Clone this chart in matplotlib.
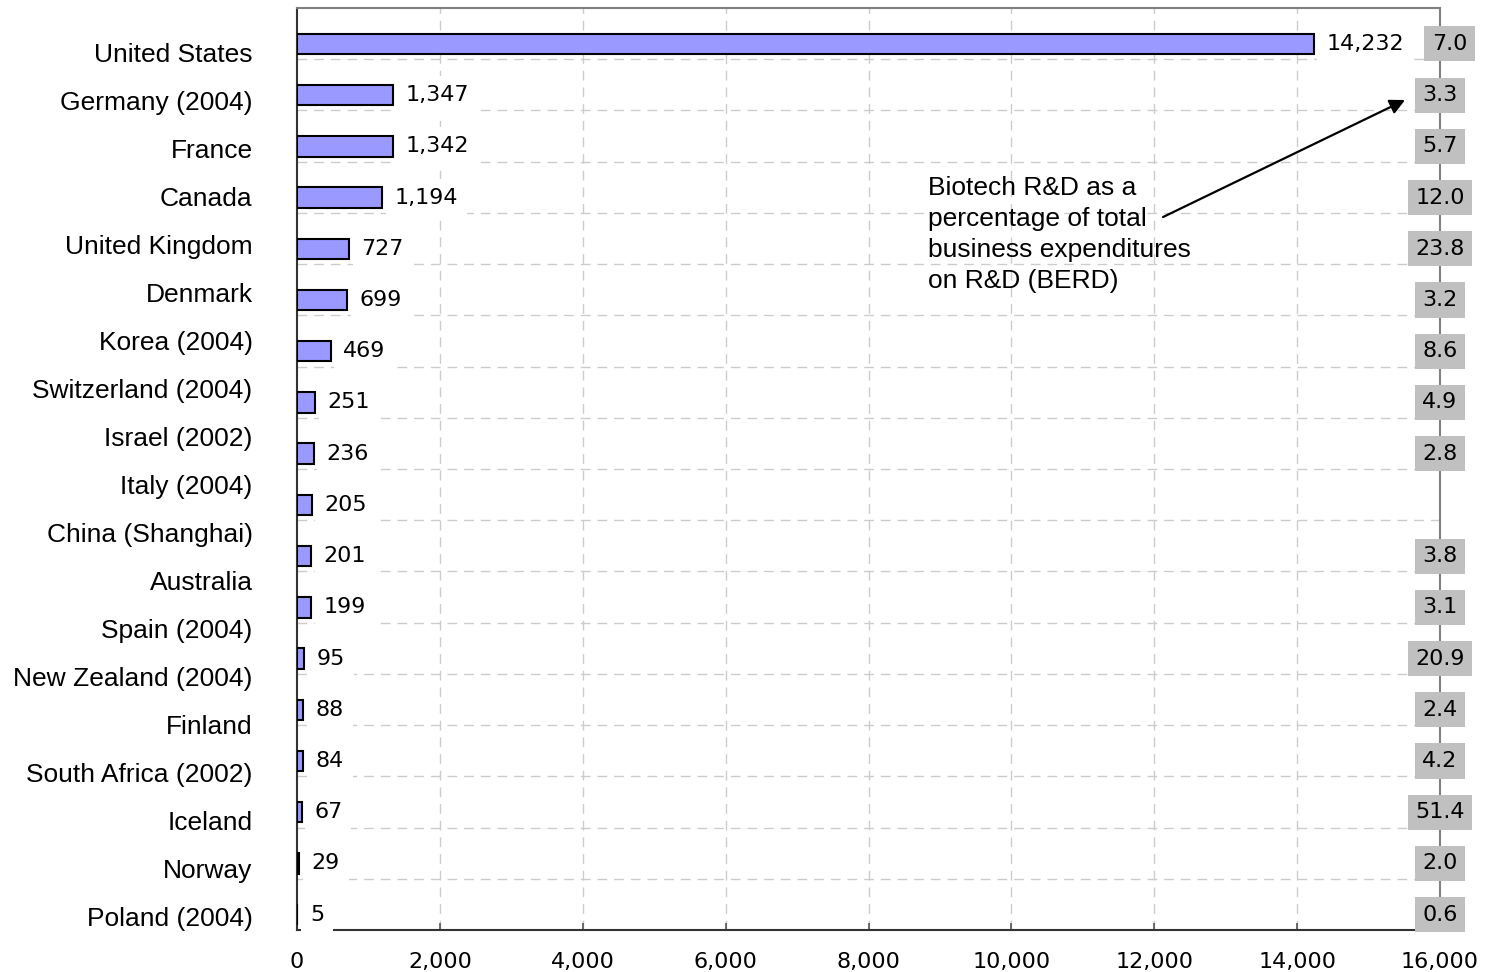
import matplotlib
matplotlib.use("Agg")
import matplotlib.pyplot as plt
import numpy as np

countries = [
    "United States", "Germany (2004)", "France", "Canada", "United Kingdom",
    "Denmark", "Korea (2004)", "Switzerland (2004)", "Israel (2002)",
    "Italy (2004)", "China (Shanghai)", "Australia", "Spain (2004)",
    "New Zealand (2004)", "Finland", "South Africa (2002)", "Iceland",
    "Norway", "Poland (2004)",
]
biotech_rd = [14232, 1347, 1342, 1194, 727, 699, 469, 251, 236, 205,
              201, 199, 95, 88, 84, 67, 29, 5]
berd_share = [7.0, 3.3, 5.7, 12.0, 23.8, 3.2, 8.6, 4.9, 2.8, None,
              3.8, 3.1, 20.9, 2.4, 4.2, 51.4, 2.0, 0.6]
x_ticks = [0, 2000, 4000, 6000, 8000, 10000, 12000, 14000, 16000]
note = "Biotech R&D as a\npercentage of total\nbusiness expenditures\non R&D (BERD)"

num_font = "DejaVu Sans"
txt_font = "Liberation Sans"

fig = plt.figure(figsize=(15.06, 9.72), dpi=100)
ax = fig.add_axes([297 / 1506, 42 / 972, 1143 / 1506, 922 / 972])

n = len(biotech_rd)
pos = np.arange(n) + 0.7
ax.barh(pos, biotech_rd, height=0.4, color="#9999FF", edgecolor="black",
        linewidth=1.5, zorder=3)

ax.set_xlim(0, 16000)
ax.set_ylim(n, 0)

# grid: dashed verticals at tick values, dashed horizontals between rows
for xv in x_ticks[1:-1]:
    ax.axvline(xv, color="#CCCCCC", lw=1.0, ls=(0, (7, 5)), zorder=1)
for k in range(1, n):
    ax.axhline(k, color="#CCCCCC", lw=1.0, ls=(0, (7, 5)), zorder=1)

ax.set_xticks(x_ticks)
ax.set_xticklabels([f"{v:,}" for v in x_ticks], fontfamily=num_font, fontsize=16)
ax.tick_params(axis="x", direction="in", length=5, width=1.2, pad=16,
               color="#555555")
ax.set_yticks([])

for side in ("left", "bottom"):
    ax.spines[side].set_color("#333333")
    ax.spines[side].set_linewidth(1.5)
for side in ("top", "right"):
    ax.spines[side].set_color("#808080")
    ax.spines[side].set_linewidth(1.5)

# value labels beside the bars
for y, v in zip(pos, biotech_rd):
    ax.annotate(f"{v:,}", xy=(v, y), xytext=(9, 0), textcoords="offset points",
                va="center", ha="left", fontfamily=num_font, fontsize=16,
                zorder=6, annotation_clip=False,
                bbox=dict(boxstyle="square,pad=0.4", fc="white", ec="none"))

# BERD share boxes on the right edge
for i, (y, s) in enumerate(zip(pos, berd_share)):
    if s is None:
        continue
    nudge = 7 if biotech_rd[i] > 14000 else 0
    ax.annotate(f"{s:.1f}", xy=(16000, y), xytext=(nudge, 0),
                textcoords="offset points", va="center", ha="center",
                fontfamily=num_font, fontsize=16, zorder=7,
                annotation_clip=False,
                bbox=dict(boxstyle="square,pad=0.34", fc="#C0C0C0", ec="none"))

# country names on their own vertical scale
lab = fig.add_axes(ax.get_position(), frameon=False)
lab.set_xlim(0, 1)
lab.set_ylim((930 - 52) / 48, (8 - 52) / 48)
lab.set_xticks([])
lab.set_yticks(np.arange(len(countries)))
lab.set_yticklabels(countries, fontfamily=txt_font, fontsize=19)
lab.tick_params(axis="y", length=0, pad=32)
lab.patch.set_visible(False)

# explanatory note with arrow to the share column
ax.text(0.552, 0.8178, note, transform=ax.transAxes, ha="left", va="top",
        fontfamily=txt_font, fontsize=19, linespacing=1.36, zorder=5)
ax.annotate("", xy=(0.9694, 0.9002), xytext=(0.7577, 0.7733),
            xycoords="axes fraction", textcoords="axes fraction",
            arrowprops=dict(arrowstyle="-|>,head_length=0.9,head_width=0.45",
                            color="black", lw=1.6, shrinkA=0, shrinkB=0),
            zorder=5)

fig.savefig("out.png", dpi=100)
